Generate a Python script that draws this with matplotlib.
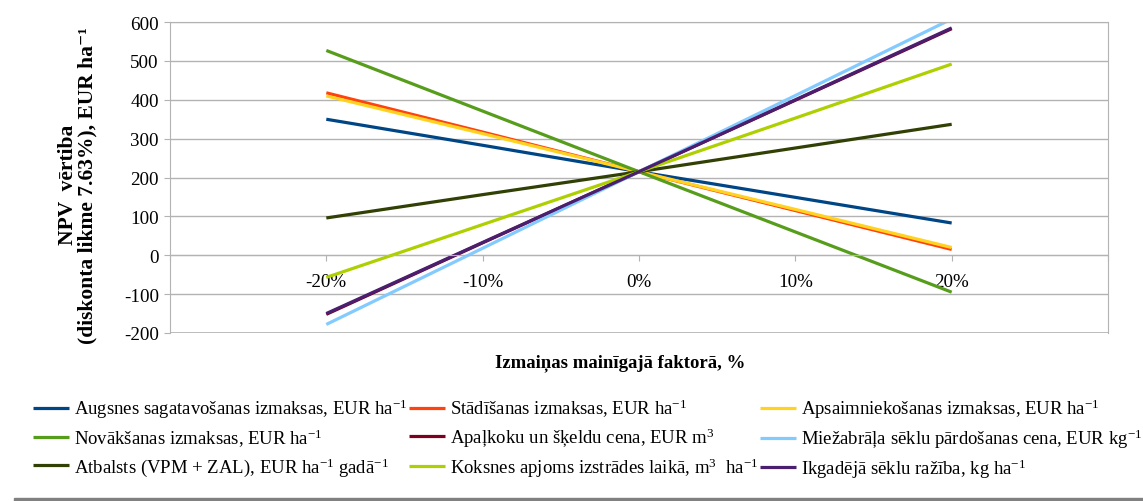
import matplotlib
matplotlib.use("Agg")
import matplotlib.pyplot as plt
from matplotlib.patches import Rectangle

# izmaiņas mainīgajā faktorā, %
change = [-20, -10, 0, 10, 20]

labels = [
    "Augsnes sagatavošanas izmaksas, EUR ha$^{-1}$",
    "Stādīšanas izmaksas, EUR ha$^{-1}$",
    "Apsaimniekošanas izmaksas, EUR ha$^{-1}$",
    "Novākšanas izmaksas, EUR ha$^{-1}$",
    "Apaļkoku un šķeldu cena, EUR m$^{3}$",
    "Miežabrāļa sēklu pārdošanas cena, EUR kg$^{-1}$",
    "Atbalsts (VPM + ZAL), EUR ha$^{-1}$ gadā$^{-1}$",
    "Koksnes apjoms izstrādes laikā, m$^{3}$  ha$^{-1}$",
    "Ikgadējā sēklu ražība, kg ha$^{-1}$",
]

augsnes = [350, 283, 215, 149, 83]
stadisanas = [418, 317, 215, 115, 15]
apsaimn = [410, 313, 215, 118, 20]
novaksanas = [527, 371, 215, 60, -95]
apalkoku = [-152, 32, 215, 399, 583]
miezabrala = [-178, 18, 215, 411, 608]
atbalsts = [96, 156, 215, 276, 337]
koksnes = [-57, 79, 215, 353, 492]
ikgadeja = [-150, 33, 215, 400, 585]

series = [augsnes, stadisanas, apsaimn, novaksanas, apalkoku,
          miezabrala, atbalsts, koksnes, ikgadeja]
colors = ["#004586", "#ff420e", "#ffd320", "#579d1c", "#7e0021",
          "#83caff", "#314004", "#aecf00", "#4b1f6f"]

plt.rcParams["font.family"] = ["Liberation Serif", "DejaVu Serif"]
plt.rcParams["axes.unicode_minus"] = False
plt.rcParams["mathtext.fontset"] = "custom"
plt.rcParams["mathtext.rm"] = "Liberation Serif"
plt.rcParams["mathtext.it"] = "Liberation Serif:italic"
plt.rcParams["mathtext.bf"] = "Liberation Serif:bold"

fig = plt.figure(figsize=(11.43, 5.02), dpi=100)
ax = fig.add_axes([0.1487, 0.3347, 0.8207, 0.6193])

handles = []
for vals, col, lab in zip(series, colors, labels):
    h, = ax.plot(change, vals, color=col, lw=2.3, label=lab,
                 solid_capstyle="butt")
    handles.append(h)

ax.set_xlim(-30, 30)
ax.set_ylim(-200, 600)
ax.set_yticks(range(-200, 601, 100))
ax.set_xticks(range(-30, 31, 10))
ax.set_xticklabels(["", "-20%", "-10%", "0%", "10%", "20%", ""])
ax.grid(axis="y", color="#b3b3b3", lw=1)
ax.set_axisbelow(True)

for s in ["left", "right", "top"]:
    ax.spines[s].set_color("#b3b3b3")
ax.spines["bottom"].set_position(("data", 0))
ax.spines["bottom"].set_color("#b3b3b3")
ax.tick_params(axis="both", colors="#b3b3b3", labelcolor="black",
               labelsize=13.7, length=4.5, pad=3.5)
ax.tick_params(axis="x", pad=8)
ax.axhline(-200, color="#b3b3b3", lw=1.2)

fig.text(0.068, 0.631, "NPV  vērtiba\n(diskonta likme 7.63%), EUR ha⁻¹",
         rotation=90, ha="center", va="center", multialignment="center",
         fontsize=15.5, fontweight="bold", linespacing=1.0)
fig.text(0.5425, 0.277, "Izmaiņas mainīgajā faktorā, %", ha="center",
         va="center", fontsize=13.5, fontweight="bold")

# legend is filled column by column, so reorder to read row by row
order = [0, 3, 6, 1, 4, 7, 2, 5, 8]
fig.legend([handles[i] for i in order], [labels[i] for i in order],
           loc="upper left", bbox_to_anchor=(0.0289, 0.207), ncol=3,
           frameon=False, fontsize=13.5, handlelength=1.9,
           handletextpad=0.27, columnspacing=0.1, labelspacing=0.33,
           borderaxespad=0, borderpad=0)

fig.add_artist(Rectangle((0.012, 0.0), 0.988, 0.005, color="#808080",
                         transform=fig.transFigure))

fig.savefig("out.png", dpi=100)
